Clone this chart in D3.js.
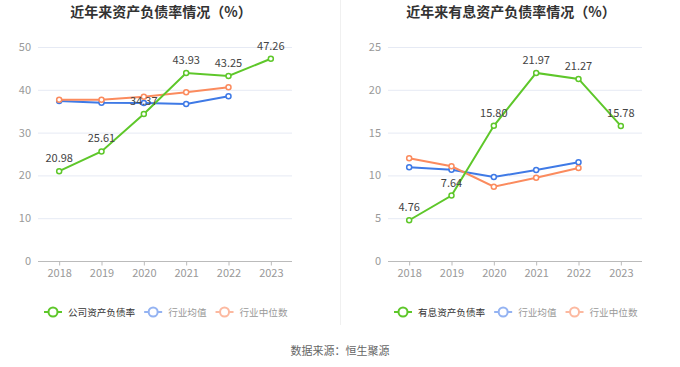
<!DOCTYPE html>
<html><head><meta charset="utf-8">
<script src="https://cdn.jsdelivr.net/npm/d3@7"></script>
<style>body{margin:0;background:#fff;font-family:"Noto Sans CJK SC","Noto Sans",sans-serif;}</style>
</head><body><svg id="c" width="680" height="367"></svg>
<script>
const years = ["2018","2019","2020","2021","2022","2023"];
const leftTitle = "近年来资产负债率情况（%）";
const leftCompany = [20.98, 25.61, 34.37, 43.93, 43.25, 47.26];
const leftAvg = [37.4, 37.0, 36.9, 36.7, 38.5];
const leftMedian = [37.7, 37.7, 38.4, 39.4, 40.6];
const leftTicks = [0, 10, 20, 30, 40, 50];
const leftLegend = ["公司资产负债率", "行业均值", "行业中位数"];

const rightTitle = "近年来有息资产负债率情况（%）";
const rightCompany = [4.76, 7.64, 15.80, 21.97, 21.27, 15.78];
const rightAvg = [10.95, 10.67, 9.81, 10.63, 11.53];
const rightMedian = [12.0, 11.06, 8.68, 9.73, 10.86];
const rightTicks = [0, 5, 10, 15, 20, 25];
const rightLegend = ["有息资产负债率", "行业均值", "行业中位数"];

const source = "数据来源：恒生聚源";

const colors = ["#5ec72a", "#3f7ae6", "#fb8b5e"];
const legendColors = ["#5ec72a", "#94b3f2", "#fcb9a0"];
const legendText = ["#333", "#999", "#999"];

const svg = d3.select("#c");
svg.append("line").attr("x1",340.5).attr("x2",340.5).attr("y1",0).attr("y2",325)
  .attr("stroke","#f0f0f0").attr("stroke-width",1);

function chart(ox, title, comp, avg, med, ticks, legend, legendX){
  const g = svg.append("g").attr("transform", `translate(${ox},0)`);
  const x0 = 38, x1 = 292;
  const x = d3.scalePoint().domain(years).range([x0, x1]).padding(0.5);
  const y = d3.scaleLinear().domain([ticks[0], ticks[ticks.length-1]]).range([261, 47]);
  g.append("text").attr("x",161).attr("y",17).attr("text-anchor","middle")
    .attr("font-size",14).attr("font-weight","bold").attr("fill","#333").text(title);
  // grid
  g.selectAll(".grid").data(ticks.slice(1)).join("line")
    .attr("x1",x0).attr("x2",x1).attr("y1",d=>y(d)+0.5).attr("y2",d=>y(d)+0.5)
    .attr("stroke","#e6eaf4");
  g.selectAll(".yl").data(ticks).join("text")
    .attr("x",31).attr("y",d=>y(d)+4).attr("text-anchor","end")
    .attr("font-size",11).attr("fill","#999").text(d=>d);
  // x axis
  const xa = g.append("g").attr("transform","translate(0,261.5)")
    .call(d3.axisBottom(x).tickSize(4).tickSizeOuter(0).tickPadding(4));
  xa.select(".domain").attr("stroke","#bbb").attr("d",`M${x0},0H${x1}`);
  xa.selectAll(".tick line").attr("stroke","#bbb");
  xa.selectAll(".tick text").attr("font-size",11).attr("fill","#999")
    .attr("font-family","Noto Sans CJK SC, Noto Sans, sans-serif");

  const line = d3.line().x((d,i)=>x(years[i])).y(d=>y(d));
  const series = [avg, med, comp];
  const cidx = [1,2,0];
  series.forEach((s,k)=>{
    const c = colors[cidx[k]];
    g.append("path").datum(s).attr("d",line).attr("fill","none")
      .attr("stroke",c).attr("stroke-width",2);
    g.selectAll(null).data(s).join("circle")
      .attr("cx",(d,i)=>x(years[i])).attr("cy",d=>y(d)).attr("r",2.5)
      .attr("fill","#fff").attr("stroke",c).attr("stroke-width",1.5);
  });
  g.selectAll(null).data(comp).join("text")
    .attr("x",(d,i)=>x(years[i])).attr("y",d=>y(d)-9).attr("text-anchor","middle")
    .attr("font-size",11).attr("fill","#444").text(d=>d.toFixed(2));

  // legend
  let lx = legendX;
  legend.forEach((t,i)=>{
    const lg = g.append("g").attr("transform",`translate(${lx},312)`);
    lg.append("line").attr("x1",0).attr("x2",18).attr("stroke",legendColors[i]).attr("stroke-width",2);
    lg.append("circle").attr("cx",9).attr("r",4.5).attr("fill","#fff")
      .attr("stroke",legendColors[i]).attr("stroke-width",2);
    const tx = lg.append("text").attr("x",24).attr("y",3.5).attr("font-size",9.6)
      .attr("fill",legendText[i]).text(t);
    lx += 24 + tx.node().getComputedTextLength() + 9;
  });
}
chart(0, leftTitle, leftCompany, leftAvg, leftMedian, leftTicks, leftLegend, 44);
chart(350, rightTitle, rightCompany, rightAvg, rightMedian, rightTicks, rightLegend, 44);

svg.append("text").attr("x",340).attr("y",355).attr("text-anchor","middle")
  .attr("font-size",11).attr("fill","#666").text(source);
</script></body></html>
